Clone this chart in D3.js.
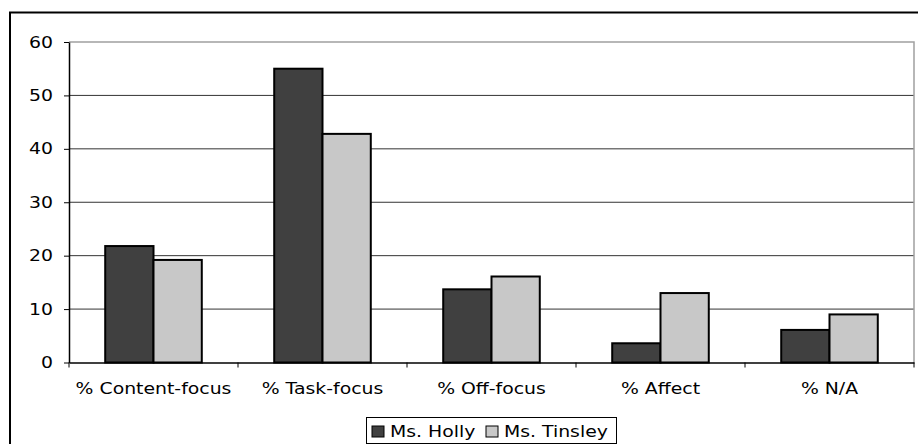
<!DOCTYPE html>
<html>
<head>
<meta charset="utf-8" />
<style>
  body { margin: 0; background: #fff; }
  text { font-family: "DejaVu Sans", Verdana, sans-serif; font-size: 15.7px; fill: #000; }
</style>
</head>
<body>
<svg id="chart" width="918" height="444"></svg>
<script src="https://cdn.jsdelivr.net/npm/d3@7"></script>
<script>
var categories = ["% Content-focus", "% Task-focus", "% Off-focus", "% Affect", "% N/A"];
var series = ["Ms. Holly", "Ms. Tinsley"];
var holly = [21.8, 55.0, 13.7, 3.6, 6.1];
var tinsley = [19.2, 42.8, 16.1, 13.0, 9.0];
var yTicks = [0, 10, 20, 30, 40, 50, 60];

var colors = { "Ms. Holly": "#404040", "Ms. Tinsley": "#c8c8c8" };
var sx = 1.2; // text is stretched sideways in the original

var rows = categories.map(function(c, i) {
  return { category: c, values: [
    { name: "Ms. Holly", value: holly[i] },
    { name: "Ms. Tinsley", value: tinsley[i] }
  ]};
});

var svg = d3.select('#chart');

// outer frame (runs past the right and bottom edges)
svg.append('rect')
  .attr('x', 10).attr('y', 12.5)
  .attr('width', 930).attr('height', 460)
  .attr('fill', 'none').attr('stroke', '#000').attr('stroke-width', 2);

var plotLeft = 69, plotRight = 914, plotTop = 42, plotBottom = 362.5;

var x0 = d3.scaleBand().domain(categories).range([plotLeft, plotRight]);
var b = x0.bandwidth() / 3.5;
var x1 = d3.scaleBand().domain(series).range([0.75 * b, 2.75 * b]);
var y = d3.scaleLinear().domain([0, 60]).range([plotBottom, plotTop]);

// gridlines
svg.append('g').selectAll('line')
  .data(yTicks.filter(function(d) { return d > 0 && d < 60; }))
  .enter().append('line')
  .attr('x1', plotLeft).attr('x2', plotRight)
  .attr('y1', function(d) { return y(d); })
  .attr('y2', function(d) { return y(d); })
  .attr('stroke', '#333').attr('stroke-width', 1);

// plot border top/right
svg.append('path')
  .attr('d', 'M' + plotLeft + ',' + plotTop + 'H' + plotRight + 'V' + plotBottom)
  .attr('fill', 'none').attr('stroke', '#a0a0a0').attr('stroke-width', 1.5);

// bars
var groups = svg.append('g').selectAll('g')
  .data(rows).enter().append('g')
  .attr('transform', function(d) { return 'translate(' + x0(d.category) + ',0)'; });

groups.selectAll('rect')
  .data(function(d) { return d.values; })
  .enter().append('rect')
  .attr('x', function(d) { return x1(d.name); })
  .attr('y', function(d) { return y(d.value); })
  .attr('width', x1.bandwidth())
  .attr('height', function(d) { return plotBottom - y(d.value); })
  .attr('fill', function(d) { return colors[d.name]; })
  .attr('stroke', '#000').attr('stroke-width', 2);

// y axis
var yAxis = svg.append('g')
  .attr('transform', 'translate(' + plotLeft + ',0)')
  .call(d3.axisLeft(y).tickValues(yTicks).tickSize(5).tickSizeOuter(0));
yAxis.select('.domain').attr('stroke', '#000').attr('stroke-width', 1.5);
yAxis.selectAll('.tick line').attr('stroke', '#000');
yAxis.selectAll('.tick text')
  .attr('font-family', null).attr('font-size', null)
  .attr('x', -16 / sx)
  .attr('transform', 'scale(' + sx + ',1)');

// x axis
var xAxis = svg.append('g')
  .attr('transform', 'translate(0,' + plotBottom + ')')
  .call(d3.axisBottom(x0).tickSize(0).tickSizeOuter(0));
xAxis.select('.domain').attr('stroke', '#000').attr('stroke-width', 1.5);
xAxis.selectAll('.tick text')
  .attr('font-family', null).attr('font-size', null)
  .attr('y', 0).attr('dy', 0)
  .attr('transform', 'translate(0,31) scale(' + sx + ',1)');

// tick marks between categories
svg.append('g').selectAll('line')
  .data(categories.concat(['end']))
  .enter().append('line')
  .attr('x1', function(d, i) { return i < categories.length ? x0(d) : plotRight; })
  .attr('x2', function(d, i) { return i < categories.length ? x0(d) : plotRight; })
  .attr('y1', plotBottom).attr('y2', plotBottom + 5)
  .attr('stroke', '#000');

// legend
var legend = svg.append('g');
legend.append('rect')
  .attr('x', 366.5).attr('y', 417.5).attr('width', 250).attr('height', 26)
  .attr('fill', '#fff').attr('stroke', '#000').attr('stroke-width', 1);

var legendX = [372, 486];
var items = legend.selectAll('g.item')
  .data(series).enter().append('g')
  .attr('class', 'item')
  .attr('transform', function(d, i) { return 'translate(' + legendX[i] + ',0)'; });
items.append('rect')
  .attr('x', 0).attr('y', 426).attr('width', 12).attr('height', 11)
  .attr('fill', function(d) { return colors[d]; })
  .attr('stroke', '#000').attr('stroke-width', 1);
items.append('text')
  .attr('transform', 'translate(18,437) scale(' + sx + ',1)')
  .text(function(d) { return d; });
</script>
</body>
</html>
